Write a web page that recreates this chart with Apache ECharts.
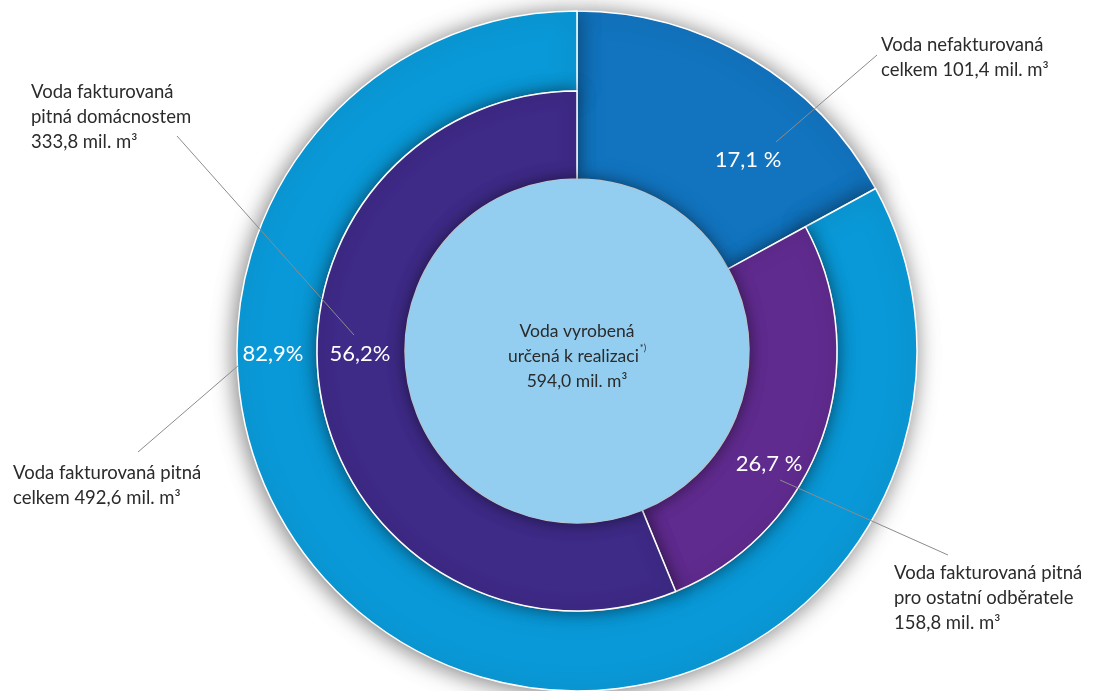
<!DOCTYPE html>
<html>
<head>
<meta charset="utf-8">
<script src="https://cdn.jsdelivr.net/npm/echarts@6/dist/echarts.min.js"></script>
<style>
  html, body { margin: 0; padding: 0; background: #ffffff; }
  #chart { width: 1096px; height: 691px; }
</style>
</head>
<body>
<div id="chart"></div>
<script>
// ---- data ----
const innerCategories = ['Voda nefakturovaná', 'Voda fakturovaná pitná pro ostatní odběratele', 'Voda fakturovaná pitná domácnostem'];
const innerValues = [101.4, 158.8, 333.8];
const outerCategories = ['Voda nefakturovaná celkem', 'Voda fakturovaná pitná celkem'];
const outerValues = [101.4, 492.6];
const totalLabel = 'Voda vyrobená určená k realizaci';
const totalValue = 594.0;
const unit = 'mil. m³';

// ---- helpers ----
const fmt = v => v.toFixed(1).replace('.', ',');
const pct = v => fmt(v / totalValue * 100);

const C = [577, 351];
const R0 = 172, R1 = 260, R2 = 340;
const FONT = 'Lato, "Open Sans", sans-serif';
const TXT = '#2b2b2b';
const LINE = '#8c8c8c';
const none = { color: 'rgba(0,0,0,0)', borderWidth: 0, shadowBlur: 0 };
const border = { borderColor: '#ffffff', borderWidth: 1.5 };
const SH = 'rgba(0,0,0,0.5)';

const colNefakt = '#1274bf';
const colOuter = '#0a99d8';
const colOstatni = '#602b8f';
const colDomac = '#3e2a87';
const colCenter = '#93cef0';

const base = {
  type: 'pie', center: C, startAngle: 90, clockwise: true,
  silent: true, animation: false, label: { show: false }, labelLine: { show: false },
  emphasis: { disabled: true }
};

const series = [
  // nefakturovaná sector spanning both rings
  Object.assign({}, base, {
    radius: [R0, R2],
    data: [
      { name: outerCategories[0], value: outerValues[0],
        itemStyle: Object.assign({ color: colNefakt, shadowBlur: 22, shadowColor: SH, shadowOffsetX: 2, shadowOffsetY: 2 }, border) },
      { name: 'rest', value: outerValues[1], itemStyle: none }
    ]
  }),
  // outer ring
  Object.assign({}, base, {
    radius: [R1, R2],
    data: [
      { name: 'gap', value: outerValues[0], itemStyle: none },
      { name: outerCategories[1], value: outerValues[1],
        itemStyle: Object.assign({ color: colOuter, shadowBlur: 22, shadowColor: SH, shadowOffsetX: -2, shadowOffsetY: 2 }, border) }
    ]
  }),
  // inner ring
  Object.assign({}, base, {
    radius: [R0, R1],
    data: [
      { name: 'gap', value: innerValues[0], itemStyle: none },
      { name: innerCategories[1], value: innerValues[1],
        itemStyle: Object.assign({ color: colOstatni, shadowBlur: 16, shadowColor: SH }, border) },
      { name: innerCategories[2], value: innerValues[2],
        itemStyle: Object.assign({ color: colDomac, shadowBlur: 16, shadowColor: SH }, border) }
    ]
  }),
  // center circle
  Object.assign({}, base, {
    radius: [0, R0],
    data: [{ name: totalLabel, value: totalValue,
      itemStyle: { color: colCenter, shadowBlur: 16, shadowColor: SH } }]
  })
];

function txt(x, y, text, opts) {
  return Object.assign({
    type: 'text', x: x, y: y, silent: true, z: 100,
    style: Object.assign({
      text: text, fill: TXT, fontSize: 18.5, fontFamily: FONT, lineHeight: 25,
      textAlign: 'left', textVerticalAlign: 'top'
    }, opts || {})
  });
}
function pctTxt(x, y, text) {
  return txt(x, y, text, { fill: '#ffffff', fontSize: 22, textAlign: 'center', textVerticalAlign: 'middle', lineHeight: 26 });
}
function line(x1, y1, x2, y2) {
  return { type: 'line', silent: true, z: 90, shape: { x1: x1, y1: y1, x2: x2, y2: y2 },
           style: { stroke: LINE, lineWidth: 1 } };
}

const graphic = [
  // leader lines
  line(877, 55, 776, 142),
  line(177, 136, 354, 335),
  line(239, 365, 138, 452),
  line(780, 480, 948, 555),
  // external labels
  txt(881, 33, 'Voda nefakturovaná\ncelkem ' + fmt(innerValues[0]) + ' ' + unit),
  txt(31, 80, 'Voda fakturovaná\npitná domácnostem\n' + fmt(innerValues[2]) + ' ' + unit),
  txt(13, 461, 'Voda fakturovaná pitná\ncelkem ' + fmt(outerValues[1]) + ' ' + unit),
  txt(894, 561, 'Voda fakturovaná pitná\npro ostatní odběratele\n' + fmt(innerValues[1]) + ' ' + unit),
  // center label
  txt(577, 356, 'Voda vyrobená\nurčená k realizaci{s|*)}\n' + fmt(totalValue) + ' ' + unit, {
    fontSize: 17.5, textAlign: 'center', textVerticalAlign: 'middle', lineHeight: 25,
    rich: { s: { fontSize: 9, fill: TXT, fontFamily: FONT, verticalAlign: 'top', lineHeight: 25, padding: [0, 0, 8, 1] } }
  }),
  // percentage labels
  pctTxt(748, 160, pct(innerValues[0]) + ' %'),
  pctTxt(273, 354, pct(outerValues[1]) + '%'),
  pctTxt(360, 354, pct(innerValues[2]) + '%'),
  pctTxt(769, 464, pct(innerValues[1]) + ' %')
];

const chart = echarts.init(document.getElementById('chart'), null, { renderer: 'canvas' });
chart.setOption({
  backgroundColor: '#ffffff',
  animation: false,
  series: series,
  graphic: graphic
});
</script>
</body>
</html>
